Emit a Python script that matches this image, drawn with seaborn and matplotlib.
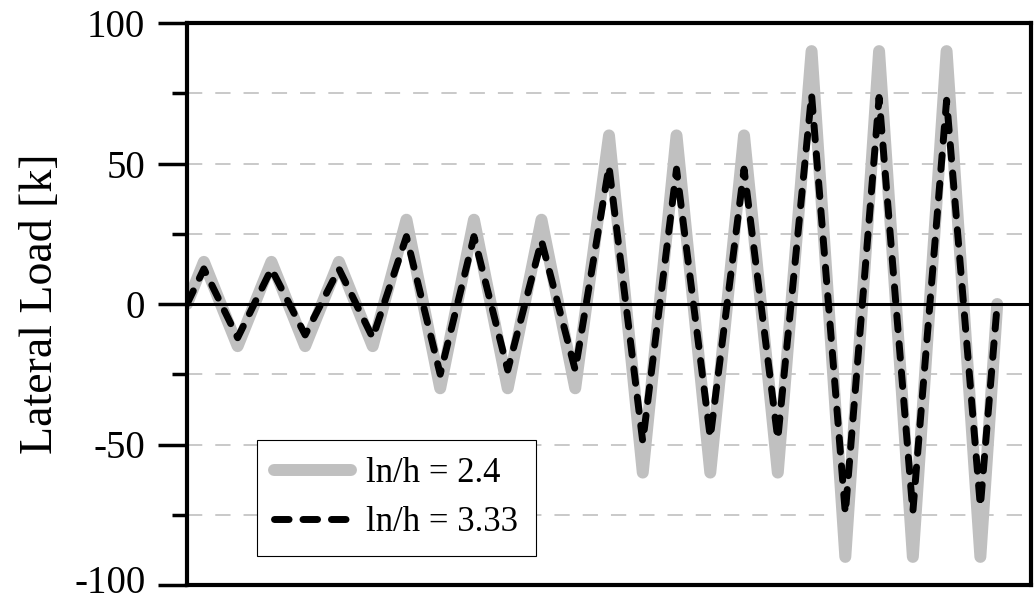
import numpy as np
import pandas as pd
import matplotlib
matplotlib.use("Agg")
import matplotlib.pyplot as plt
import matplotlib.transforms as mtransforms
import seaborn as sns
from matplotlib.ticker import MultipleLocator

# 載入步序與兩組側向載重資料
steps = [0, 1, 3, 5, 7, 9, 11, 13, 15, 17, 19, 21, 23, 25,
         27, 29, 31, 33, 35, 37, 39, 41, 43, 45, 47, 48]
load_24 = [0, 15, -15, 15, -15, 15, -15, 30, -30, 30, -30, 30, -30,
           60, -60, 60, -60, 60, -60, 90, -90, 90, -90, 90, -90, 0]
load_333 = [0, 12.5, -12, 12.5, -11, 12.5, -12, 24, -25, 24, -23.5, 22.5, -23.5,
            49, -49, 48, -47.5, 48, -48, 74.5, -74.5, 73.5, -74, 72.5, -72, 0]
series_labels = ["ln/h = 2.4", "ln/h = 3.33"]
y_ticks = [-100, -50, 0, 50, 100]

sns.set_theme(style="ticks")
plt.rcParams['font.family'] = ['Liberation Serif', 'DejaVu Serif']
plt.rcParams['text.color'] = 'black'
plt.rcParams['axes.labelcolor'] = 'black'
plt.rcParams['ytick.color'] = 'black'

df = pd.DataFrame({"step": steps, "a": load_24, "b": load_333})

fig, ax = plt.subplots(figsize=(10.34, 6.03), dpi=100)
fig.subplots_adjust(left=187/1034, right=1031/1034, top=1-23/603, bottom=1-585/603)

sns.lineplot(data=df, x="step", y="a", ax=ax, color="#c0c0c0", lw=8.6,
             solid_capstyle="round", solid_joinstyle="round",
             label=series_labels[0], zorder=2)
ax.axhline(0, color="black", lw=2.2, zorder=3)
sns.lineplot(data=df, x="step", y="b", ax=ax, color="black", lw=5,
             linestyle=(0, (2.1, 2.0)), dash_capstyle="round",
             dash_joinstyle="round", label=series_labels[1], zorder=4)

ax.set_xlim(0, 50)
ax.set_ylim(-100, 100)
ax.set_xticks([])
ax.set_yticks(y_ticks)
ax.set_yticklabels([str(v) for v in y_ticks])
ax.yaxis.set_minor_locator(MultipleLocator(25))
ax.tick_params(axis="y", which="major", length=21, width=2.5, labelsize=28,
               pad=9, colors="black")
ax.tick_params(axis="y", which="minor", length=11, width=2.5, colors="black")
ax.set_xlabel("")
ax.set_ylabel("Lateral Load [k]", fontsize=33, color="black")
ax.yaxis.set_label_coords(-0.148, 0.5)

# 最下方刻度文字稍微上移，避免被圖邊裁切
lbl = ax.get_yticklabels()[0]
lbl.set_transform(lbl.get_transform() +
                  mtransforms.ScaledTranslation(0, 4/72, fig.dpi_scale_trans))

ax.grid(True, axis="y", which="both", color="#bbbbbb", lw=1.1,
        linestyle=(0, (10, 8.5)), zorder=0)
ax.set_axisbelow(True)

for side in ["left", "bottom", "right", "top"]:
    ax.spines[side].set_visible(True)
    ax.spines[side].set_color("black")
    ax.spines[side].set_linewidth(3)

leg = ax.legend(loc="upper left", bbox_to_anchor=(0.083, 0.258),
                borderaxespad=0, fontsize=25, handlelength=2.2,
                handletextpad=0.45, labelspacing=0.45, fancybox=False,
                framealpha=1, edgecolor="black", borderpad=0.5)
leg.get_frame().set_linewidth(0.8)
for t in leg.get_texts():
    t.set_color("black")

plt.savefig("out.png")
plt.close()
